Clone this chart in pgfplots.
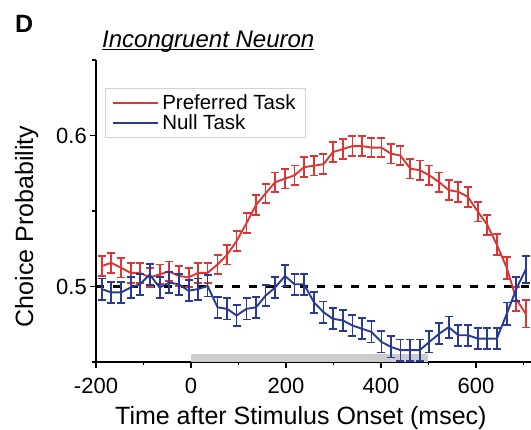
\documentclass[border=0pt]{standalone}
\usepackage{fontspec}
\setmainfont{Liberation Sans}
\usepackage{pgfplots}
\usepackage{pgfplotstable}
\pgfplotsset{compat=1.18}
\definecolor{prefred}{RGB}{222,52,52}
\definecolor{nullblue}{RGB}{40,58,150}

% time, preferred CP, err, null CP, err
\pgfplotstableread{
x    pref    perr    null    nerr
-188 0.5135 0.0065 0.4983 0.0070
-168 0.5157 0.0065 0.4961 0.0070
-147 0.5124 0.0065 0.4961 0.0070
-127 0.5090 0.0065 0.4993 0.0070
-107 0.5090 0.0065 0.5015 0.0070
-87  0.5060 0.0065 0.5080 0.0070
-66  0.5080 0.0065 0.4993 0.0070
-46  0.5100 0.0065 0.5026 0.0070
-26  0.5070 0.0065 0.5015 0.0070
-5   0.5060 0.0065 0.4972 0.0070
15   0.5090 0.0065 0.4983 0.0070
35   0.5090 0.0065 0.5004 0.0070
56   0.5146 0.0065 0.4862 0.0070
76   0.5210 0.0065 0.4852 0.0070
96   0.5300 0.0065 0.4808 0.0070
117  0.5420 0.0065 0.4852 0.0070
137  0.5540 0.0065 0.4862 0.0070
157  0.5616 0.0065 0.4939 0.0070
177  0.5690 0.0065 0.4993 0.0070
198  0.5714 0.0065 0.5070 0.0070
218  0.5736 0.0065 0.5015 0.0070
238  0.5790 0.0065 0.5015 0.0070
259  0.5800 0.0065 0.4895 0.0070
279  0.5810 0.0065 0.4830 0.0070
299  0.5890 0.0065 0.4786 0.0070
320  0.5910 0.0065 0.4775 0.0070
340  0.5930 0.0065 0.4742 0.0070
360  0.5930 0.0065 0.4720 0.0070
380  0.5920 0.0065 0.4699 0.0070
401  0.5920 0.0065 0.4633 0.0070
421  0.5880 0.0065 0.4600 0.0070
441  0.5867 0.0065 0.4579 0.0070
462  0.5780 0.0065 0.4579 0.0070
482  0.5770 0.0065 0.4579 0.0070
502  0.5736 0.0065 0.4633 0.0070
523  0.5690 0.0065 0.4688 0.0070
543  0.5638 0.0065 0.4731 0.0070
563  0.5627 0.0065 0.4677 0.0070
583  0.5594 0.0065 0.4677 0.0070
604  0.5496 0.0065 0.4655 0.0070
624  0.5408 0.0065 0.4655 0.0070
644  0.5277 0.0068 0.4655 0.0070
665  0.5124 0.0072 0.4819 0.0075
685  0.4917 0.0080 0.4983 0.0080
705  0.4819 0.0090 0.5114 0.0090
}\cpdata

\begin{document}
\begin{tikzpicture}
\begin{axis}[
  scale only axis, width=435pt, height=302pt,
  xmin=-200, xmax=716, ymin=0.45, ymax=0.65,
  axis x line*=bottom, axis y line*=left,
  axis line style={line width=1.3pt},
  tick style={line width=1.3pt, black},
  tick align=outside,
  major tick length=6pt, minor tick length=3.5pt,
  xtick={-200,0,200,400,600},
  xticklabels={-200,0,200,400,600},
  minor xtick={-100,100,300,500,700},
  ytick={0.5,0.6}, yticklabels={0.5,0.6},
  minor ytick={0.45,0.55,0.65},
  ticklabel style={font=\fontsize{22}{26}\selectfont},
  xticklabel style={anchor=base, inner sep=0pt, yshift=-26pt},
  yticklabel style={anchor=east, inner sep=0pt, xshift=-3pt},
  xlabel={Time after Stimulus Onset (msec)},
  ylabel={Choice Probability},
  label style={font=\fontsize{25}{30}\selectfont},
  xlabel style={at={(axis description cs:0.471,-0.2086)}, anchor=base, inner sep=0pt},
  ylabel style={at={(axis description cs:-0.1448,0.449)}, anchor=base, inner sep=0pt},
  legend style={at={(axis description cs:0.0207,0.907)}, anchor=north west,
    draw=gray!35, line width=0.9pt, font=\fontsize{20.5}{24}\selectfont,
    inner xsep=7pt, inner ysep=3pt, row sep=-2pt,
    nodes={inner sep=3pt}},
  legend cell align=left,
  legend image code/.code={\draw[#1] (0pt,0pt) -- (45pt,0pt);},
]
\addplot[fill=gray!40, draw=none, forget plot] coordinates {(0,0.45) (500,0.45) (500,0.4556) (0,0.4556)} -- cycle;
\addplot[black, line width=2.2pt, dash pattern=on 8pt off 9pt, forget plot] coordinates {(-200,0.5) (716,0.5)};
\addlegendimage{prefred, line width=1.8pt}
\addlegendentry{Preferred Task}
\addlegendimage{nullblue, line width=1.8pt}
\addlegendentry{Null Task}
\addplot[prefred, line width=1.9pt, mark=none, forget plot,
  error bars/.cd, y dir=both, y explicit,
  error bar style={line width=1.8pt, prefred},
  error mark options={mark size=4pt, line width=1.8pt, prefred, rotate=90}]
  table[x=x, y=pref, y error=perr] {\cpdata};
\addplot[nullblue, line width=1.9pt, mark=none, forget plot,
  error bars/.cd, y dir=both, y explicit,
  error bar style={line width=1.8pt, nullblue},
  error mark options={mark size=4pt, line width=1.8pt, nullblue, rotate=90}]
  table[x=x, y=null, y error=nerr] {\cpdata};
\end{axis}
\node[anchor=base west, inner sep=0pt, font=\fontsize{25}{30}\selectfont\bfseries] at (-81pt,329pt) {D};
\node[anchor=base west, inner sep=0pt, font=\fontsize{24}{29}\selectfont\itshape] at (6pt,314pt) {\underline{\smash{Incongruent Neuron}}};
\pgfresetboundingbox
\path[use as bounding box] (-96pt,-68pt) rectangle (435pt,362pt);
\end{tikzpicture}
\end{document}
